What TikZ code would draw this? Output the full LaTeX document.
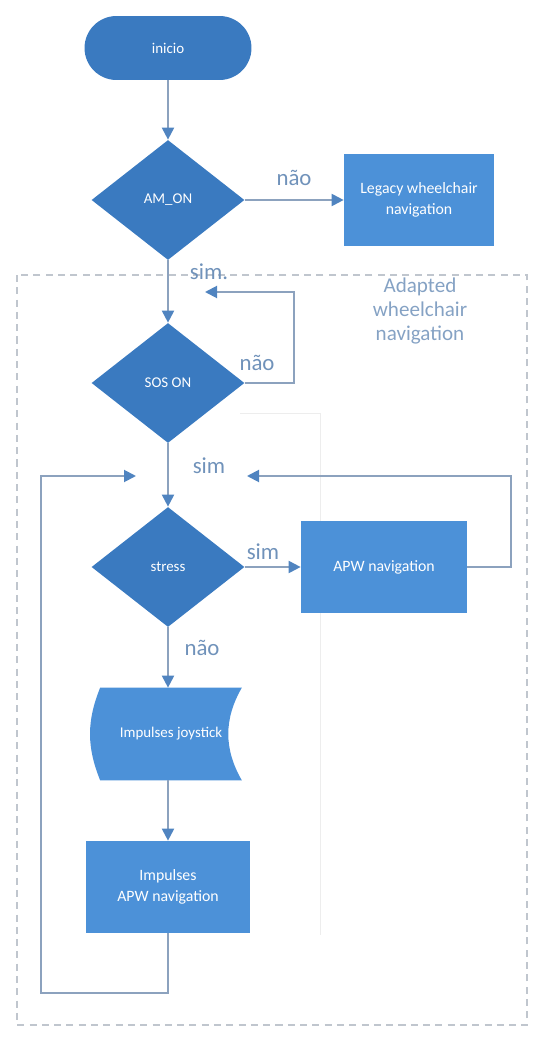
\documentclass[tikz,border=0pt]{standalone}
\usepackage{fontspec}
\setmainfont{Carlito}
\usepackage{xcolor}
\definecolor{dark-blue}{RGB}{58,122,192}
\definecolor{mid-blue}{RGB}{76,145,216}
\definecolor{line-grey}{RGB}{140,162,190}
\definecolor{tip-blue}{RGB}{80,132,192}
\definecolor{label-blue}{RGB}{112,146,186}
\definecolor{frame-grey}{RGB}{192,198,206}
\usepackage{tikz}
\usetikzlibrary{shapes.geometric,arrows.meta,backgrounds}

\begin{document}
\begin{tikzpicture}[x=0.02cm,y=-0.02cm,
	>={Triangle[length=0.24cm,width=0.24cm,color=tip-blue]},
	flow/.style={draw=line-grey,line width=1.1pt},
	decision/.style={diamond,fill=dark-blue,text=white,inner sep=0pt,
		minimum width=3.06cm,minimum height=2.4cm,font=\fontsize{8.5}{10}\selectfont},
	process/.style={rectangle,fill=mid-blue,text=white,align=center,inner sep=2pt,
		minimum height=1.84cm,font=\fontsize{9}{12}\selectfont},
	answer/.style={text=label-blue,font=\fontsize{13}{15}\selectfont}]
	\useasboundingbox (0,0) rectangle (545,1037);

	% frame of the adapted navigation
	\draw[frame-grey,line width=1pt,dash pattern=on 4pt off 3pt] (17,275) rectangle (527,1025);
	\draw[black!7] (240,413)--(320,413)--(320,935);
	\node[text=label-blue!85,align=center,font=\fontsize{12}{13.5}\selectfont] (adapted) at (420,311)
		{Adapted\\wheelchair\\navigation};

	% blocks
	\node[fill=dark-blue,text=white,rounded corners=0.64cm,minimum width=3.34cm,
		minimum height=1.28cm,font=\fontsize{8.5}{10}\selectfont] (inicio) at (168,48) {inicio};
	\node[decision] (amon) at (168,200) {AM\_ON};
	\node[process,minimum width=3cm] (legacy) at (419,200) {Legacy wheelchair\\navigation};
	\node[decision] (sos) at (168,383) {SOS ON};
	\node[decision] (stress) at (168,567) {stress};
	\node[process,minimum width=3.32cm] (apw) at (384,567) {APW navigation};
	\node[text=white,minimum width=2.82cm,minimum height=1.84cm,
		font=\fontsize{8.5}{12}\selectfont] (joy) at (171,734) {Impulses joystick};
	\node[process,minimum width=3.3cm] (impapw) at (168,887) {Impulses\\APW navigation};

	\begin{scope}[on background layer]
		\fill[mid-blue] (joy.north west) to[bend right=22] (joy.south west)
			-- (joy.south east) to[bend left=30] (joy.north east) -- cycle;
	\end{scope}

	% free ends of the loops
	\coordinate (soscorner) at (294,292);
	\coordinate (sosback) at (205,292);
	\coordinate (apwcorner) at (511,476);
	\coordinate (apwback) at (247,476);
	\coordinate (loopcorner) at (41,993);
	\coordinate (loopback) at (136,476);

	% connectors
	\draw[flow,->] (inicio)--(amon);
	\draw[flow,->] (amon)--(legacy);
	\draw[flow,->] (amon)--(sos);
	\draw[flow,->] (sos.east) -| (soscorner)--(sosback);
	\draw[flow,->] (sos)--(stress);
	\draw[flow,->] (stress)--(apw);
	\draw[flow,->] (apw.east) -| (apwcorner)--(apwback);
	\draw[flow,->] (stress.south)--(stress.south |- joy.north);
	\draw[flow,->] (stress.south |- joy.south)--(impapw.north);
	\draw[flow,->] (impapw.south) |- (loopcorner) |- (loopback);

	\path
		(294,178) node[answer] (nao1) {não}
		(209,272) node[answer] (sim1) {sim.}
		(257,363) node[answer] (nao2) {não}
		(209,466) node[answer] (sim2) {sim}
		(263,552) node[answer] (sim3) {sim}
		(202,648) node[answer] (nao3) {não};
\end{tikzpicture}
\end{document}
